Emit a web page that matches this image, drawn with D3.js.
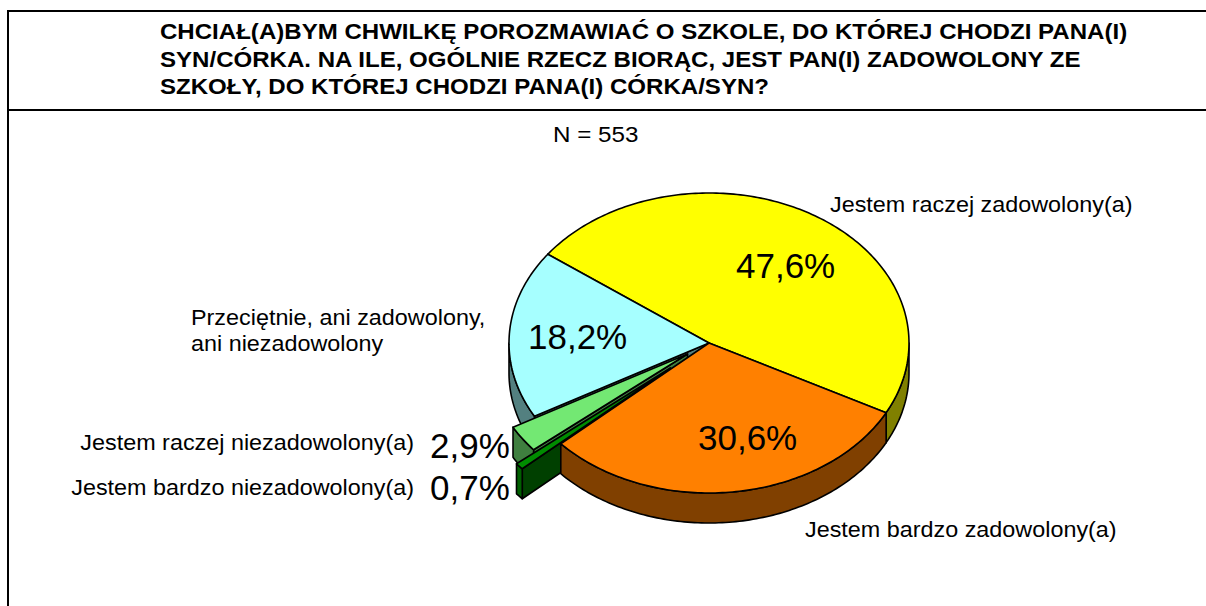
<!DOCTYPE html>
<html><head><meta charset="utf-8">
<script src="https://cdn.jsdelivr.net/npm/d3@7"></script>
<style>html,body{margin:0;padding:0;background:#fff}svg{display:block}text{font-family:"Liberation Sans",Arial,sans-serif;fill:#000}</style>
</head><body><svg id="c" width="1206" height="606"></svg>
<script>
const titleLines = ["CHCIAŁ(A)BYM CHWILKĘ POROZMAWIAĆ O SZKOLE, DO KTÓREJ CHODZI PANA(I)",
  "SYN/CÓRKA. NA ILE, OGÓLNIE RZECZ BIORĄC, JEST PAN(I) ZADOWOLONY ZE",
  "SZKOŁY, DO KTÓREJ CHODZI PANA(I) CÓRKA/SYN?"];
const subtitle = "N = 553";
const categories = ["Jestem raczej zadowolony(a)","Jestem bardzo zadowolony(a)","Jestem bardzo niezadowolony(a)","Jestem raczej niezadowolony(a)","Przeciętnie, ani zadowolony,|ani niezadowolony"];
const values = [47.6,30.6,0.7,2.9,18.2];
const valueLabels = ["47,6%","30,6%","0,7%","2,9%","18,2%"];
const explode = [0,0,0.255,0.13,0];
const topColors = ["#ffff00","#ff8000","#008c00","#73e873","#a6ffff"];
const sideColors = ["#808000","#804000","#006000","#3f7f3f","#538080"];
const wallColors = ["#808000","#804000","#004000","#3f7f3f","#538080"];
const drawOrder = [0,4,3,2,1];

const cx=709, cy=343, rx=200, ry=150, depth=30;
const svg=d3.select("#c");
const deg=Math.PI/180, start=-53.7*deg;
const arcs=d3.pie().sort(null).startAngle(start).endAngle(start+2*Math.PI)(values);
const line=d3.line();
const pt=(a,k,o,dz)=>[o[0]+k*rx*Math.sin(a), o[1]-k*ry*Math.cos(a)+dz];

drawOrder.forEach(i=>{
  const d=arcs[i], a0=d.startAngle, a1=d.endAngle, mid=(a0+a1)/2;
  const o=[cx+explode[i]*rx*Math.sin(mid), cy-explode[i]*ry*Math.cos(mid)];
  const g=svg.append("g");
  const stroke={stroke:"#000","stroke-width":1.6,"stroke-linejoin":"round"};
  const draw=(pts,fill)=>{const p=g.append("path").attr("d",line(pts)+"Z").attr("fill",fill);
    Object.entries(stroke).forEach(([k,v])=>p.attr(k,v));};
  const norm=a=>((a%(2*Math.PI))+2*Math.PI)%(2*Math.PI);
  const wall=a=>draw([o,pt(a,1,o,0),pt(a,1,o,depth),[o[0],o[1]+depth]],wallColors[i]);
  if(norm(a0)>Math.PI) wall(a0);
  if(norm(a1)<Math.PI) wall(a1);
  // outer curved side: only the part facing the viewer (90deg..270deg)
  const s0=Math.max(a0,90*deg), s1=Math.min(a1,270*deg);
  if(s1>s0){
    const n=Math.ceil((s1-s0)/deg), top=d3.range(n+1).map(j=>pt(s0+(s1-s0)*j/n,1,o,0));
    const bot=top.map(p=>[p[0],p[1]+depth]).reverse();
    draw(top.concat(bot),sideColors[i]);
  }
  const n=Math.max(4,Math.ceil((a1-a0)/deg));
  draw([o].concat(d3.range(n+1).map(j=>pt(a0+(a1-a0)*j/n,1,o,0))),topColors[i]);
});

// frame
[[8,11,1206,11],[8,110,1206,110],[8,10,8,606]].forEach(l=>svg.append("line")
  .attr("x1",l[0]).attr("y1",l[1]).attr("x2",l[2]).attr("y2",l[3]).attr("stroke","#000").attr("stroke-width",2));

// stretched text: reference glyphs are wider than the installed metric at this height
const put=(s,x,y,size,sx,anchor,bold)=>svg.append("text")
  .attr("transform",`translate(${x},${y}) scale(${sx},1)`)
  .attr("text-anchor",anchor||"start").attr("font-size",size)
  .attr("font-weight",bold?"bold":"normal").text(s);

titleLines.forEach((s,i)=>put(s,160,39+i*27.5,22,1.094,"start",true));
put(subtitle,553,142,22,1.1);

const catPos=[[830,212],[805,537],[414,495,"end"],[414,450,"end"],[191,325]];
categories.forEach((c,i)=>c.split("|").forEach((s,j)=>
  put(s,catPos[i][0],catPos[i][1]+j*26,22,1.062,catPos[i][2])));

const valPos=[[736,278],[698,450],[430,500],[430,458],[528,349]];
valueLabels.forEach((v,i)=>put(v,valPos[i][0],valPos[i][1],35,1));
</script></body></html>
